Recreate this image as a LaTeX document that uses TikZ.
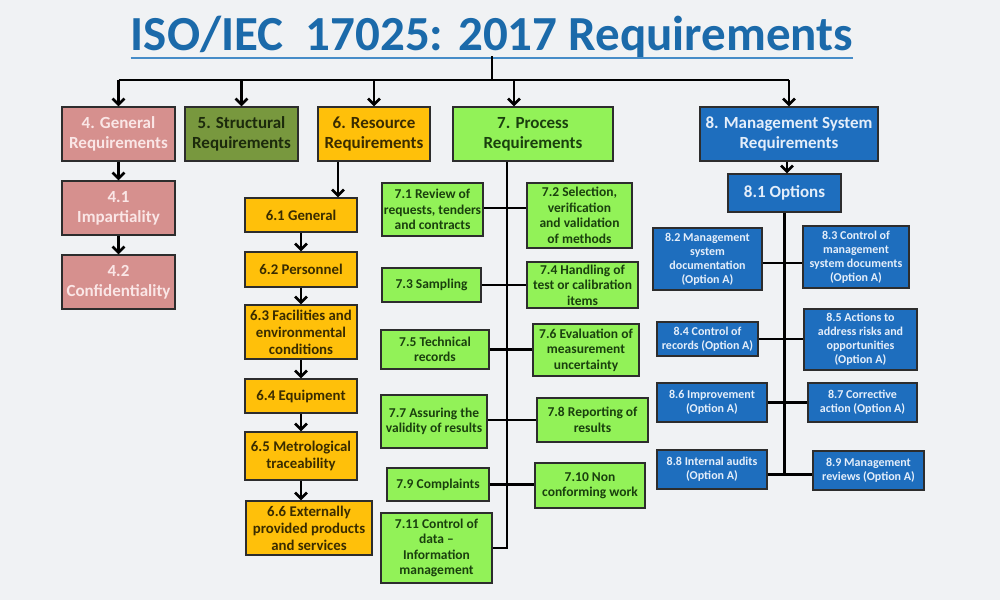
\documentclass[tikz,border=0pt]{standalone}
\usepackage{fontspec}
\setmainfont{Carlito}
\usetikzlibrary{arrows.meta,calc}
\definecolor{bgc}{RGB}{240,242,244}
\definecolor{titlec}{RGB}{27,106,170}
\definecolor{ulinec}{RGB}{70,140,200}
\definecolor{bordc}{RGB}{45,45,45}
\definecolor{pinkc}{RGB}{214,144,142}
\definecolor{pinkt}{RGB}{250,230,230}
\definecolor{olivec}{RGB}{120,152,62}
\definecolor{olivet}{RGB}{28,42,12}
\definecolor{orangec}{RGB}{255,192,10}
\definecolor{oranget}{RGB}{58,44,0}
\definecolor{greenc}{RGB}{146,242,88}
\definecolor{greent}{RGB}{26,64,14}
\definecolor{bluec}{RGB}{30,110,190}
\definecolor{bluet}{RGB}{228,238,250}
\begin{document}
\begin{tikzpicture}[x=1pt,y=-1pt,
  box/.style={draw=bordc, line width=1.3pt, align=center, inner sep=0.5pt, font=\bfseries},
  wh/.style 2 args={minimum width=#1pt, minimum height=#2pt},
  topfont/.style={font=\bfseries\fontsize{17}{20}\selectfont},
  pinkbox/.style={box, fill=pinkc, text=pinkt, topfont},
  olivebox/.style={box, fill=olivec, text=olivet, topfont},
  orangebox/.style={box, fill=orangec, text=oranget, font=\bfseries\fontsize{14.8}{17}\selectfont},
  greenbox/.style={box, fill=greenc, text=greent, font=\bfseries\fontsize{13.5}{15.5}\selectfont},
  bluebox/.style={box, fill=bluec, text=bluet, font=\bfseries\fontsize{12}{14}\selectfont},
  line/.style={line width=2.6pt, black},
  arr/.style={line, -{Straight Barb[length=6pt,width=12pt]}}
]
\useasboundingbox (0,0) rectangle (1000,600);
\fill[bgc] (0,0) rectangle (1000,600);

% title
\node[inner sep=0pt, text=titlec, font=\bfseries\fontsize{49}{55}\selectfont, anchor=base] (title) at (492,50) {ISO/IEC\ \ 17025: 2017 Requirements};
\draw[ulinec, line width=2.5pt] ([yshift=-8pt]title.base west) -- ([yshift=-8pt]title.base east);
\coordinate (hub) at (492,80);

% top level
\node[pinkbox, wh={113}{54}] (g4) at (118.5,134) {4. General\\Requirements};
\node[olivebox, wh={113}{54}] (s5) at (241.5,134) {5. Structural\\Requirements};
\node[orangebox, wh={112}{54}, topfont] (r6) at (374,134) {6. Resource\\Requirements};
\node[greenbox, wh={160}{54}, topfont] (p7) at (533,134) {7. Process\\Requirements};
\node[bluebox, wh={178}{54}, topfont] (m8) at (789,134) {8. Management System\\Requirements};

\draw[line] ([yshift=-6pt]title.base -| hub) -- (hub);
\draw[line] (g4.north |- hub) -- (m8.north |- hub);
\draw[arr] (g4.north |- hub) -- (g4.north);
\draw[arr] (s5.north |- hub) -- (s5.north);
\draw[arr] (r6.north |- hub) -- (r6.north);
\draw[arr] ([xshift=-19pt]p7.north |- hub) -- ([xshift=-19pt]p7.north);
\draw[arr] (m8.north |- hub) -- (m8.north);

% 4
\node[pinkbox, wh={113}{54}] (g41) at (118.5,208) {4.1\\Impartiality};
\node[pinkbox, wh={113}{54}] (g42) at (118.5,282) {4.2\\Confidentiality};
\draw[arr] (g4.south) -- (g41.north);
\draw[arr] (g41.south) -- (g42.north);

% 6
\node[orangebox, wh={112}{34}] (r61) at (301,215) {6.1 General};
\node[orangebox, wh={112}{35}] (r62) at (301,269.5) {6.2 Personnel};
\node[orangebox, wh={112}{54}] (r63) at (301,332) {6.3 Facilities and\\environmental\\conditions};
\node[orangebox, wh={112}{34}] (r64) at (301,396) {6.4 Equipment};
\node[orangebox, wh={112}{48}] (r65) at (301,456) {6.5 Metrological\\traceability};
\node[orangebox, wh={126}{54}] (r66) at (309,528) {6.6 Externally\\provided products\\and services};
\draw[arr] ([xshift=-36pt]r6.south) -- ([xshift=-36pt]r6.south |- r61.north);
\draw[arr] (r61.south) -- (r62.north);
\draw[arr] (r62.south) -- (r63.north);
\draw[arr] (r63.south) -- (r64.north);
\draw[arr] (r64.south) -- (r65.north);
\draw[arr] (r65.south) -- (r65.south |- r66.north);

% 7
\node[greenbox, wh={101}{53}] (p71) at (432.5,209.5) {7.1 Review of\\requests, tenders\\and contracts};
\node[greenbox, wh={105}{65}] (p72) at (579.5,215.5) {7.2 Selection,\\verification\\and validation\\of methods};
\node[greenbox, wh={99}{34}] (p73) at (431.5,285) {7.3 Sampling};
\node[greenbox, wh={111}{46}] (p74) at (582.5,285) {7.4 Handling of\\test or calibration\\items};
\node[greenbox, wh={108}{39}] (p75) at (435,349.5) {7.5 Technical\\records};
\node[greenbox, wh={106}{52}] (p76) at (586,350) {7.6 Evaluation of\\measurement\\uncertainty};
\node[greenbox, wh={106}{53}] (p77) at (434,421.5) {7.7 Assuring the\\validity of results};
\node[greenbox, wh={111}{44}] (p78) at (592.5,420) {7.8 Reporting of\\results};
\node[greenbox, wh={102}{33}] (p79) at (438,484.5) {7.9 Complaints};
\node[greenbox, wh={110}{45}] (p710) at (590,485.5) {7.10 Non\\conforming work};
\node[greenbox, wh={111}{70}] (p711) at (436.5,548) {7.11 Control of\\data –\\Information\\management};
\draw[line] ([xshift=-26pt]p7.south) -- ([xshift=-26pt]p7.south |- p711.east) -- (p711.east);
\draw[line] ([yshift=1.5pt]p71.east) -- ([yshift=1.5pt]p71.east -| p72.west);
\draw[line] (p73.east) -- (p73.east -| p74.west);
\draw[line] (p75.east) -- (p75.east -| p76.west);
\draw[line] ([yshift=1.5pt]p77.east) -- ([yshift=1.5pt]p77.east -| p78.west);
\draw[line] (p79.east) -- (p79.east -| p710.west);

% 8
\node[bluebox, wh={113}{38}, font=\bfseries\fontsize{17}{18}\selectfont] (m81) at (784.5,193) {8.1 Options};
\node[bluebox, wh={109}{62}] (m82) at (707.5,259) {8.2 Management\\system\\documentation\\(Option A)};
\node[bluebox, wh={106}{62}] (m83) at (856,257) {8.3 Control of\\management\\system documents\\(Option A)};
\node[bluebox, wh={101}{34}] (m84) at (707.5,339) {8.4 Control of\\records (Option A)};
\node[bluebox, wh={113}{61}] (m85) at (860.5,339.5) {8.5 Actions to\\address risks and\\opportunities\\(Option A)};
\node[bluebox, wh={110}{39}] (m86) at (712,402.5) {8.6 Improvement\\(Option A)};
\node[bluebox, wh={109}{39}] (m87) at (862.5,402.5) {8.7 Corrective\\action (Option A)};
\node[bluebox, wh={110}{39}] (m88) at (712,469.5) {8.8 Internal audits\\(Option A)};
\node[bluebox, wh={111}{39}] (m89) at (868.5,470.5) {8.9 Management\\reviews (Option A)};
\draw[arr] ([xshift=-2pt]m8.south) -- ([xshift=-2pt]m8.south |- m81.north);
\draw[line] (m81.south) -- ([yshift=-5pt]m81.south |- m88.east);
\draw[line] ([yshift=-4pt]m82.east) -- ([yshift=-4pt]m82.east -| m83.west);
\draw[line] (m84.east) -- (m84.east -| m85.west);
\draw[line] (m86.east) -- (m86.east -| m87.west);
\draw[line] ([yshift=-5pt]m88.east) -- ([yshift=-5pt]m88.east -| m89.west);
\end{tikzpicture}
\end{document}
